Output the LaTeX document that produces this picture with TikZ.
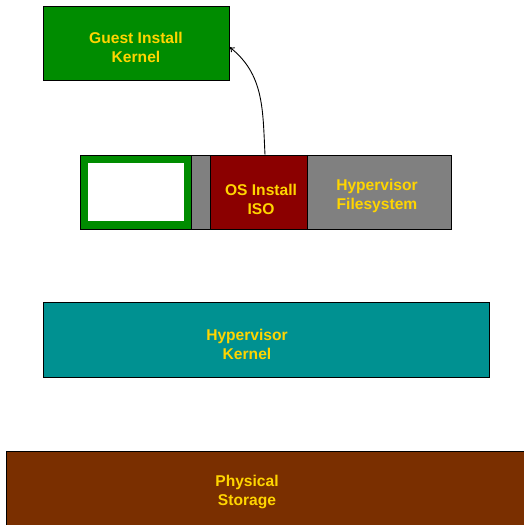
\documentclass[tikz,border=0pt]{standalone}
\usepackage{fontspec}
\setmainfont{Liberation Sans}
\usetikzlibrary{arrows.meta}
\definecolor{leaf}{HTML}{008C00}
\definecolor{sea}{HTML}{009191}
\definecolor{wine}{HTML}{8B0000}
\definecolor{slate}{HTML}{808080}
\definecolor{rust}{HTML}{7A2F00}
\definecolor{gold}{HTML}{FFD500}

\begin{document}
\begin{tikzpicture}[x=1pt,y=1pt,>={To[length=5pt,width=6pt]},
  layer/.style={draw=black,line width=0.8pt,inner sep=0pt,minimum height=74pt},
  caption/.style={text=gold,align=center,inner sep=0pt,
    font=\bfseries\fontsize{15.6}{19}\selectfont}]
  \useasboundingbox (0,0) rectangle (524,525);
  \clip (0,0) rectangle (524,525);

  % Guest kernel on top
  \node[layer,fill=leaf,minimum width=186pt] (guest) at (136,482) {};
  \node[caption] (guesttext) at (136,478) {Guest Install\\Kernel};

  % Hypervisor filesystem row
  \node[layer,fill=leaf,minimum width=111pt] (disk) at (135.5,333) {};
  \node[fill=white,inner sep=0pt,minimum width=96pt,minimum height=58pt]
    (slot) at (136,333) {};
  \node[layer,fill=slate,minimum width=19pt] (gap) at (200.5,333) {};
  \node[layer,fill=wine,minimum width=97pt] (iso) at (258.5,333) {};
  \node[caption] (isotext) at (261,326) {OS Install\\ISO};
  \node[layer,fill=slate,minimum width=144pt] (hvfs) at (379,333) {};
  \node[caption] (hvfstext) at (377,329) {Hypervisor\\Filesystem};

  % Hypervisor kernel
  \node[layer,fill=sea,minimum width=446pt,minimum height=75pt]
    (hvkernel) at (266,185.5) {};
  \node[caption] (hvkerneltext) at (247,181) {Hypervisor\\Kernel};

  % Physical storage, running off the page
  \node[layer,fill=rust,minimum width=560pt,minimum height=94pt]
    (storage) at (286,27) {};
  \node[caption] (storagetext) at (247,33) {Physical\\Storage};

  \draw[->,line width=0.9pt] ([xshift=6.5pt]iso.north)
    to[out=93,in=-38] ([yshift=-4pt]guest.east);
\end{tikzpicture}
\end{document}
